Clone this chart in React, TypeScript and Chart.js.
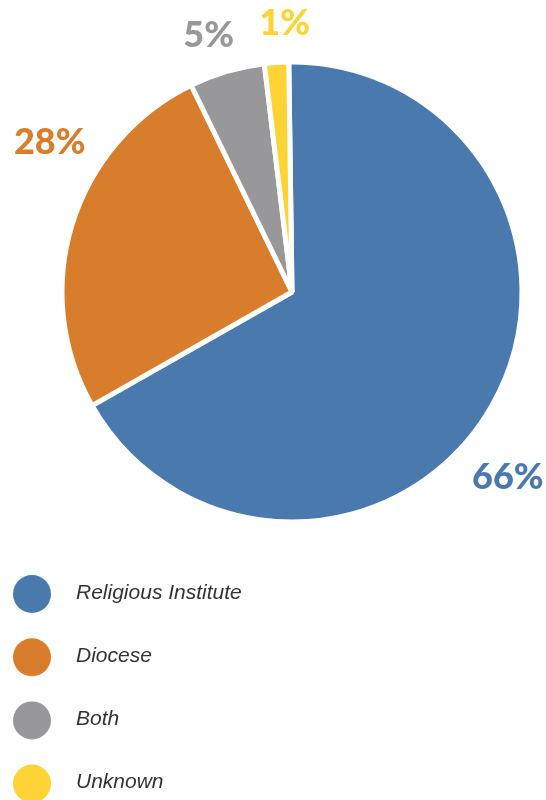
import React, { useEffect, useRef } from "react";
import { Chart, registerables } from "chart.js";

Chart.register(...registerables);

const categories = ["Religious Institute", "Diocese", "Both", "Unknown"];
const sliceValues = [67.0, 26.0, 5.3, 1.7];
// percentage labels printed next to the slices
const percentLabels = ["66%", "28%", "5%", "1%"];
const colors = ["#4a7aad", "#d77d2c", "#98989a", "#fdd335"];

const labelPlugin = {
  id: "outerLabels",
  afterDraw(chart: any, _args: any, opts: any) {
    const ctx = chart.ctx;
    const meta = chart.getDatasetMeta(0);
    ctx.save();
    ctx.font = "900 36px Lato, 'Open Sans', sans-serif";
    ctx.textAlign = "center";
    ctx.textBaseline = "middle";
    meta.data.forEach((arc: any, i: number) => {
      const p = arc.getProps(["x", "y", "startAngle", "endAngle", "outerRadius"], true);
      const o = opts.offsets[i];
      const a = (p.startAngle + p.endAngle) / 2 + (o.da * Math.PI) / 180;
      const r = p.outerRadius + o.dr;
      ctx.fillStyle = colors[i];
      ctx.fillText(percentLabels[i], p.x + Math.cos(a) * r, p.y + Math.sin(a) * r + opts.yShift);
    });
    ctx.restore();
  },
};

const legendPlugin = {
  id: "vertLegend",
  afterDraw(chart: any, _args: any, opts: any) {
    const ctx = chart.ctx;
    ctx.save();
    ctx.font = "italic 21px 'Liberation Sans', Arial, sans-serif";
    ctx.textBaseline = "middle";
    ctx.textAlign = "left";
    categories.forEach((c, i) => {
      const y = opts.top + i * opts.step;
      ctx.beginPath();
      ctx.arc(opts.x, y, opts.radius, 0, Math.PI * 2);
      ctx.fillStyle = colors[i];
      ctx.fill();
      ctx.fillStyle = "#333333";
      ctx.fillText(c, opts.textX, y - 1);
    });
    ctx.restore();
  },
};

export default function App() {
  const ref = useRef<HTMLCanvasElement | null>(null);
  useEffect(() => {
    if (!ref.current) return;
    const chart = new Chart(ref.current, {
      type: "pie",
      data: {
        labels: categories,
        datasets: [
          {
            data: sliceValues,
            backgroundColor: colors,
            borderColor: "#ffffff",
            borderWidth: 5,
          },
        ],
      },
      options: {
        responsive: false,
        animation: false,
        rotation: -0.8,
        layout: { padding: { left: 59.5, right: 21.5, top: 59.5, bottom: 275.5 } },
        plugins: {
          legend: { display: false },
          tooltip: { enabled: false },
          outerLabels: {
            yShift: 2,
            offsets: [
              { da: 10.5, dr: 53 },
              { da: 14.9, dr: 56 },
              { da: -1.4, dr: 42 },
              { da: 2.3, dr: 41 },
            ],
          },
          vertLegend: { x: 32, top: 594, step: 63.2, radius: 19, textX: 76 },
        } as any,
      },
      plugins: [labelPlugin, legendPlugin],
    });
    return () => chart.destroy();
  }, []);
  return (
    <div style={{ position: "absolute", left: 0, top: 0, width: 546, height: 800, background: "#fff" }}>
      <canvas ref={ref} width={546} height={800} style={{ width: 546, height: 800, display: "block" }} />
    </div>
  );
}
